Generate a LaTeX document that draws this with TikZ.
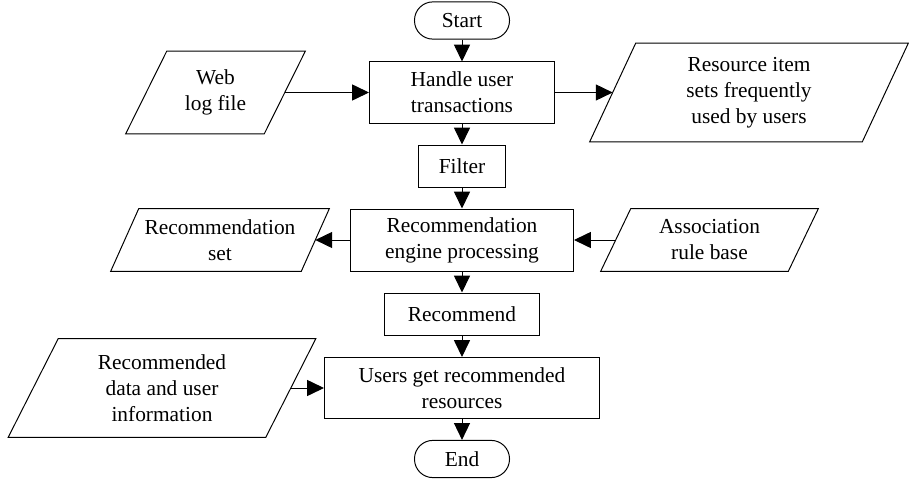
\documentclass[tikz,border=0pt]{standalone}
\usepackage{fontspec}
\setmainfont{Liberation Serif}
\usepackage{tikz}
\usetikzlibrary{positioning}
\usetikzlibrary{calc}
\usetikzlibrary{arrows.meta}
\tikzstyle{box} = [rectangle, draw=black, line width=0.7pt, align=center, inner sep=2pt]
\tikzstyle{terminal} = [rectangle, rounded corners=0.46cm, draw=black, line width=0.7pt, minimum width=2.375cm, minimum height=0.93cm]
\tikzstyle{io} = [rectangle, align=center, inner sep=0pt]
\tikzstyle{arrow} = [line width=0.7pt, -{Triangle[length=0.42cm, width=0.4cm]}]

\begin{document}
\begin{tikzpicture}[x=0.025cm, y=-0.025cm, font=\fontsize{15.2}{18.5}\selectfont]
    \useasboundingbox (0, 0) rectangle (909, 479);

    % --- main column ---

    % Start
    \node[terminal] at (462, 20.5) (start) {Start};

    % handle user transactions below start
    \node[
        box, minimum width=4.625cm, minimum height=1.525cm
    ] at ($(start.center) + (0, 72)$) (handle) {Handle user\\transactions};

    % filter below handle
    \node[
        box, minimum width=2.175cm, minimum height=1.05cm
    ] at ($(handle.center) + (0, 73.5)$) (filter) {Filter};

    % recommendation engine below filter
    \node[
        box, minimum width=5.575cm, minimum height=1.55cm
    ] at ($(filter.center) + (0, 74)$) (engine) {Recommendation\\engine processing};

    % recommend below engine
    \node[
        box, minimum width=3.875cm, minimum height=1.05cm
    ] at ($(engine.center) + (0, 74)$) (recommend) {Recommend};

    % users get recommended resources below recommend
    \node[
        box, minimum width=6.875cm, minimum height=1.525cm
    ] at ($(recommend.center) + (0, 74)$) (users) {Users get recommended\\resources};

    % End
    \node[terminal] at ($(users.center) + (0, 71)$) (end) {End};

    % arrows down the column
    \draw[arrow] (start) to (handle);
    \draw[arrow] (handle) to (filter);
    \draw[arrow] (filter) to (engine);
    \draw[arrow] (engine) to (recommend);
    \draw[arrow] (recommend) to (users);
    \draw[arrow] (users) to (end);

    % --- data on the sides (text nodes, outline drawn below) ---

    % web log file on the left of handle
    \node[
        io, minimum width=3.45cm, minimum height=2.05cm
    ] at ($(handle.center) + (-246.5, 0)$) (weblog) {Web\\log file};

    % resource item sets on the right of handle
    \node[
        io, minimum width=6.8cm, minimum height=2.45cm
    ] at ($(handle.center) + (287, 0)$) (itemsets) {Resource item\\sets frequently\\used by users};

    % recommendation set on the left of engine
    \node[
        io, minimum width=4.75cm, minimum height=1.55cm
    ] at ($(engine.center) + (-242, 0)$) (recset) {Recommendation\\set};

    % association rule base on the right of engine
    \node[
        io, minimum width=4.675cm, minimum height=1.55cm
    ] at ($(engine.center) + (247.5, 0)$) (rulebase) {Association\\rule base};

    % recommended data on the left of users
    \node[
        io, minimum width=6.425cm, minimum height=2.45cm
    ] at ($(users.center) + (-300, 0)$) (recdata) {Recommended\\data and user\\information};

    % slanted outlines round the data nodes (name/half slant)
    \foreach \n/\d in {weblog/20.5, itemsets/23, recset/14, rulebase/15, recdata/25}
        \draw[line width=0.7pt]
            ($(\n.south west) + (-\d, 0)$) -- ($(\n.north west) + (\d, 0)$)
            -- ($(\n.north east) + (\d, 0)$) -- ($(\n.south east) + (-\d, 0)$) -- cycle;

    % arrows to and from the data
    \draw[arrow] (weblog) to (handle);
    \draw[arrow] (handle) to (itemsets);
    \draw[arrow] (engine) to (recset);
    \draw[arrow] (rulebase) to (engine);
    \draw[arrow] (recdata) to (users);

\end{tikzpicture}
\end{document}
